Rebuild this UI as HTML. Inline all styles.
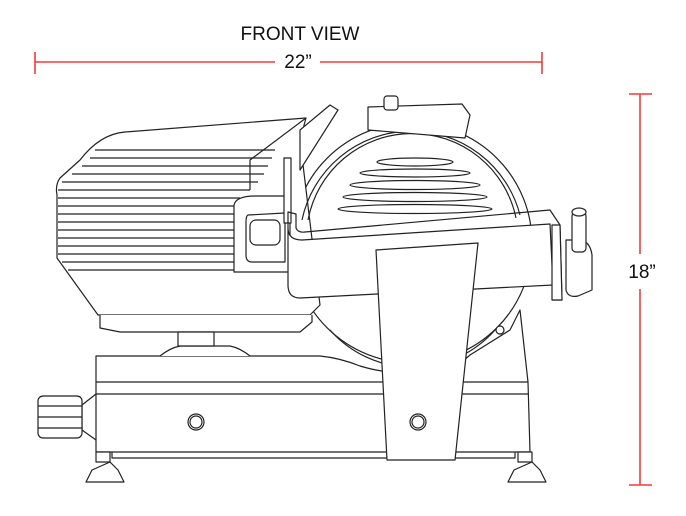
<!DOCTYPE html>
<html><head><meta charset="utf-8"><style>
html,body{margin:0;padding:0;background:#fff;}
svg{display:block;}
</style></head><body>
<svg width="686" height="516" viewBox="0 0 686 516" xmlns="http://www.w3.org/2000/svg">
<g stroke="#f03c3c" stroke-width="1.6" fill="none">
<line x1="35" y1="62" x2="275" y2="62"/><line x1="320" y1="62" x2="542" y2="62"/>
<line x1="35" y1="52" x2="35" y2="74"/><line x1="542" y1="52" x2="542" y2="74"/>
<line x1="640" y1="94" x2="640" y2="254"/><line x1="640" y1="289" x2="640" y2="485"/>
<line x1="629" y1="94" x2="652" y2="94"/><line x1="629" y1="485" x2="652" y2="485"/>
</g>
<g font-family="Liberation Sans, sans-serif" fill="#111">
<text x="300" y="40" font-size="19" text-anchor="middle">FRONT VIEW</text>
<text x="298" y="68" font-size="19" text-anchor="middle">22”</text>
<text x="642" y="278" font-size="19" text-anchor="middle">18”</text>
</g>
<g stroke="#222" stroke-width="1.2" fill="#fff" stroke-linejoin="round">
<circle cx="412" cy="243" r="120"/>
<path d="M330 330 A110 110 0 0 0 495 330" fill="none"/>
<path d="M125 132 Q100 134 80 160 L60 178 Q55 185 57 195 L57 258 L98 315 L310 315 L320 305 L300 140 L306 118 Z"/>
<path d="M100 315 L100 328 L120 332 L300 332 L312 322 L312 315" />
<g fill="none">
<line x1="95" y1="150" x2="275" y2="150"/><line x1="90" y1="158" x2="272" y2="158"/>
<line x1="82" y1="166" x2="268" y2="166"/><line x1="72" y1="174" x2="264" y2="174"/>
<line x1="62" y1="182" x2="258" y2="182"/><line x1="58" y1="190" x2="250" y2="190"/>
<line x1="58" y1="198" x2="240" y2="198"/><line x1="58" y1="206" x2="236" y2="206"/>
<line x1="58" y1="214" x2="234" y2="214"/><line x1="58" y1="222" x2="234" y2="222"/>
<line x1="58" y1="230" x2="234" y2="230"/><line x1="58" y1="238" x2="234" y2="238"/>
<line x1="58" y1="246" x2="234" y2="246"/><line x1="58" y1="254" x2="234" y2="254"/>
<line x1="62" y1="262" x2="234" y2="262"/><line x1="68" y1="270" x2="234" y2="270"/>
</g>
<path d="M306 118 L250 160 L250 190" fill="none"/>
<path d="M234 205 Q236 196 255 196 L290 196 L290 272 L234 272 Z"/>
<path d="M248 215 L285 213 L285 262 L252 262 Q246 262 246 255 L246 222 Q246 216 248 215 Z" fill="none"/>
<rect x="250" y="220" width="30" height="25" rx="6"/>
<path d="M302 220 A112 112 0 0 1 520 215" fill="none"/>
<path d="M308 220 A106 106 0 0 1 516 218" fill="none"/>
<path d="M300 130 L330 105 L338 110 L300 170 Z"/>
<rect x="284" y="158" width="7" height="65"/>
<path d="M368 107 L462 104 L470 115 L465 138 L368 130 Z"/>
<rect x="384" y="96" width="14" height="14" rx="3"/>
<g fill="none">
<ellipse cx="415" cy="162" rx="38" ry="4"/><ellipse cx="415" cy="173" rx="55" ry="4"/>
<ellipse cx="415" cy="185" rx="65" ry="4.5"/><ellipse cx="415" cy="197" rx="72" ry="4.5"/>
<ellipse cx="415" cy="209" rx="77" ry="4.5"/>
</g>
<path d="M288 228 Q288 240 302 240 L550 224 L553 285 L300 298 Q288 298 288 285 Z"/>
<path d="M288 228 L288 212 L296 214 L296 228 Q298 233 305 232 L550 210 L560 225 L562 300 L553 300 L553 285" fill="none"/>
<path d="M552 225 L560 225 L562 300 L552 300 Z"/>
<path d="M566 240 L566 290 Q568 298 578 296 L592 290 L592 255 Q590 240 578 240 Z"/>
<rect x="572" y="212" width="14" height="40" rx="4"/>
<ellipse cx="579" cy="212" rx="7" ry="4"/>
<path d="M96 356 L320 356 Q340 358 360 366 Q380 372 395 372 L450 372 L470 355 L510 330 L520 310 L528 382 L530 452 L96 452 Z"/>
<line x1="96" y1="382" x2="528" y2="382"/>
<line x1="96" y1="394" x2="529" y2="394"/>
<path d="M112 452 L112 458 L515 458 L515 452" fill="none"/>
<path d="M160 356 Q170 348 180 346 L230 346 Q240 348 250 356" />
<rect x="178" y="332" width="36" height="14"/>
<path d="M96 394 L82 405 L82 430 L96 440" fill="none"/>
<rect x="38" y="396" width="44" height="42" rx="5"/>
<line x1="38" y1="406" x2="82" y2="406"/><line x1="38" y1="417" x2="82" y2="417"/><line x1="38" y1="428" x2="82" y2="428"/>
<rect x="96" y="452" width="14" height="10"/>
<path d="M86 482 L92 470 L110 462 L118 470 L124 482 Z"/>
<rect x="518" y="452" width="14" height="10"/>
<path d="M508 482 L514 470 L532 462 L540 470 L546 482 Z"/>
<path d="M376 250 L478 243 L455 460 L387 460 Z"/>
<circle cx="196" cy="422" r="8"/><circle cx="196" cy="422" r="6"/>
<circle cx="418" cy="422" r="8"/><circle cx="418" cy="422" r="6"/>
<circle cx="500" cy="330" r="4"/>
</g>
</svg>
</body></html>
